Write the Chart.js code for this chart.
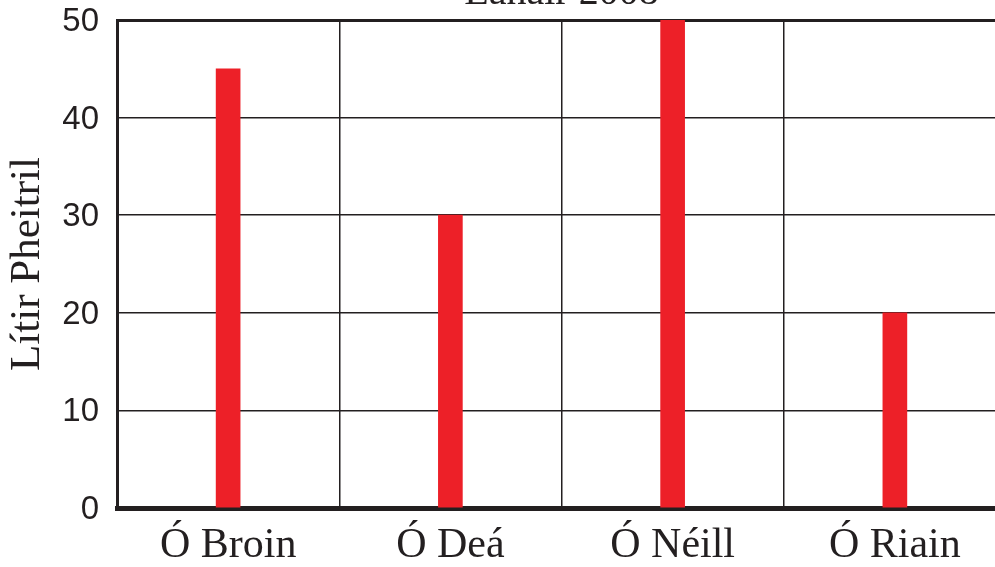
<!DOCTYPE html>
<html>
<head>
<meta charset="utf-8">
<script src="https://cdn.jsdelivr.net/npm/chart.js@4/dist/chart.umd.min.js"></script>
<style>
  html, body { margin: 0; padding: 0; background: #fff; overflow: hidden; }
  #wrap { position: relative; width: 1006px; height: 567px; }
</style>
</head>
<body>
<div id="wrap"><canvas id="fuelChart"></canvas></div>
<script>
const categories = ['Ó Broin', 'Ó Deá', 'Ó Néill', 'Ó Riain'];
const litres = [45, 30, 50, 20];
const chartTitle = 'Eanáir 2008';
const yTitle = 'Lítir Pheitril';

const INK = '#231f20';
const RED = '#ed2028';

// title sits mostly above the canvas, only its bottom edge shows
const cutTitle = {
  id: 'cutTitle',
  afterDraw(chart) {
    const ctx = chart.ctx;
    const area = chart.chartArea;
    ctx.save();
    ctx.font = '40px "Liberation Serif", "Times New Roman", serif';
    ctx.fillStyle = INK;
    ctx.textAlign = 'center';
    ctx.textBaseline = 'alphabetic';
    ctx.fillText(chartTitle, (area.left + area.right) / 2, 4);
    ctx.restore();
  }
};

const data = {
  labels: categories,
  datasets: [{
    data: litres,
    backgroundColor: RED,
    barThickness: 24
  }]
};

const config = {
  type: 'bar',
  data: data,
  plugins: [cutTitle],
  options: {
    responsive: true,
    maintainAspectRatio: false,
    animation: false,
    layout: { padding: { top: 20, left: 0, right: 0, bottom: 0 } },
    plugins: {
      legend: false,
      tooltip: { enabled: false }
    },
    scales: {
      x: {
        z: 1,
        grid: {
          offset: true,
          drawTicks: false,
          color: INK,
          lineWidth: 1.5
        },
        border: { color: INK, width: 5 },
        ticks: {
          color: INK,
          padding: 13,
          font: { family: '"Liberation Serif", "Times New Roman", serif', size: 42 }
        },
        afterFit(scale) {
          scale.height = 59;
          scale.paddingLeft = 0;
          scale.paddingRight = 0;
        }
      },
      y: {
        min: 0,
        max: 50,
        ticks: {
          stepSize: 10,
          color: INK,
          padding: 18,
          labelOffset: 2,
          font: { family: '"Liberation Sans", Arial, sans-serif', size: 33 }
        },
        grid: {
          drawTicks: false,
          color: INK,
          lineWidth: ctx => (ctx.tick && ctx.tick.value === 50 ? 3 : 1.5)
        },
        border: { color: INK, width: 3 },
        title: {
          display: true,
          text: yTitle,
          color: INK,
          padding: { top: 2, bottom: 0 },
          font: { family: '"Liberation Serif", "Times New Roman", serif', size: 43 }
        },
        afterFit(scale) {
          scale.width = 117;
          scale.paddingTop = 0;
          scale.paddingBottom = 0;
        }
      }
    }
  }
};

const fuelCanvas = document.getElementById('fuelChart').getContext('2d');
const fuelChart = new Chart(fuelCanvas, config);
</script>
</body>
</html>
